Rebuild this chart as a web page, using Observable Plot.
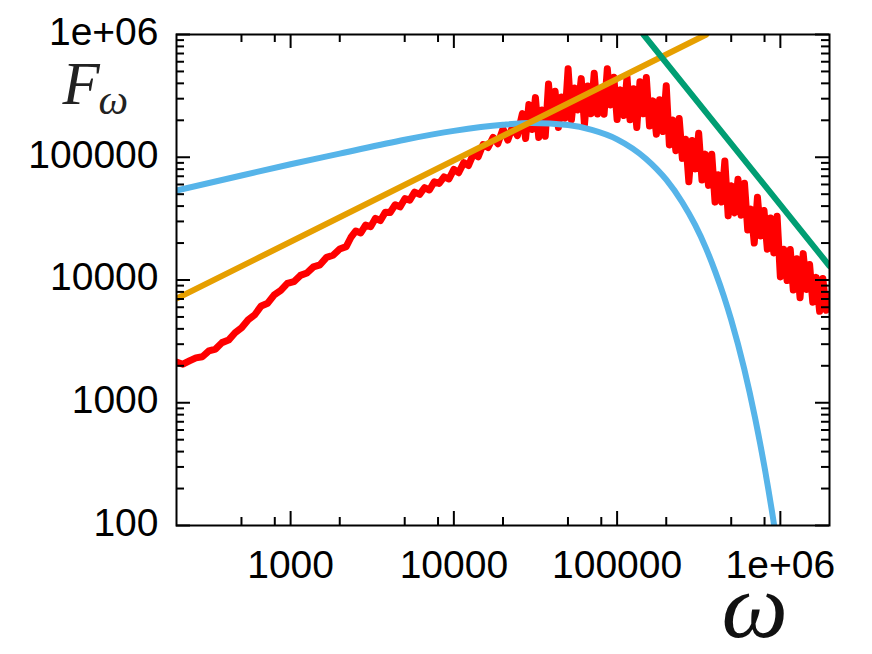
<!DOCTYPE html>
<html><head><meta charset="utf-8">
<script src="https://cdn.jsdelivr.net/npm/d3@7"></script>
<script src="https://cdn.jsdelivr.net/npm/@observablehq/plot@0.6"></script>
<style>body{margin:0;background:#fff}</style>
</head><body><div id="chart"></div>
<script>
// ---- data ----
const redOmega = [200,219,240,263,288,316,347,380,417,457,501,550,603,661,724,794,871,955,1047,1148,1259,1380,1514,1660,1820,2000,2190,2340,
 2510,2690,2880,3090,3310,3550,3800,4070,4370,4680,5010,5370,5750,6170,6610,7080,7590,8130,8710,9330,10000,10700,11500,12300,13200,14100,15100,16200,17400,18600,20000,21400,22900,24500,
 26300,27500,28800,30200,31600,33100,34700,36300,38000,39800,41700,43700,45700,47900,50100,52500,55000,57500,60300,63100,66100,69200,72400,75900,79400,83200,87100,91200,95500,100000,
 105000,110000,115000,120000,126000,132000,138000,145000,151000,158000,166000,174000,182000,191000,200000,209000,219000,229000,240000,251000,263000,275000,288000,302000,316000,331000,347000,363000,380000,398000,
 417000,437000,457000,479000,501000,525000,550000,575000,603000,631000,661000,692000,724000,759000,794000,832000,871000,912000,955000,1000000,
 1050000,1100000,1150000,1200000,1260000,1320000,1380000,1450000,1510000,1580000,1660000,1740000,1820000,1910000,2000000];
const redF = [2140,2060,2190,2320,2370,2650,2740,3090,3240,3720,4090,4750,5210,6150,6470,7570,8240,9380,9680,10900,11400,12800,13300,15300,15900,17900,18700,22200,
 25100,24200,28000,27200,31800,30500,35700,35500,41000,39400,46000,44700,52000,49800,56500,54100,63100,61300,69200,66500,79600,74800,90400,85700,107000,101000,127000,120000,145000,129000,170000,138000,178000,150000,
 227000,142000,269000,168000,306000,145000,243000,148000,395000,195000,345000,175000,310000,208000,525000,202000,367000,243000,437000,184000,380000,226000,483000,225000,352000,224000,525000,267000,449000,203000,
 354000,219000,450000,202000,362000,175000,412000,226000,447000,180000,288000,154000,294000,162000,382000,126000,201000,113000,207000,97900,140000,63200,137000,80400,157000,65200,106000,59000,106000,43100,
 72100,43200,93100,33300,58500,35200,66100,33700,61500,25500,37800,20000,47200,22800,36900,17800,32000,16600,33100,10600,
 17800,9890,17700,8280,14900,7180,16400,8380,13400,6590,10500,5560,10300,5660,7410];

const blueOmega = [200,500,1000,2000,5000,10000,20000,30000,50000,70000,100000,150000,200000,250000,300000,350000,400000,450000,500000,600000,700000,800000,900000,950000];
const blueF = [53600,71000,87700,107000,139000,164000,184000,190000,183000,167000,140000,97300,65600,43200,28200,18200,11600,7430,4730,1900,753,298,117,73];

const orangeOmega = [200, 352000];
const orangeF = [7050, 1000000];

const greenOmega = [145000, 2000000];
const greenF = [1000000, 13000];

const xMajor = [1000, 10000, 100000, 1000000];
const xLabels = ["1000", "10000", "100000", "1e+06"];
const xMinor = [500, 800, 2000, 5000, 8000, 20000, 50000, 80000, 200000, 500000, 800000];
const yMajor = [100, 1000, 10000, 100000, 1000000];
const yLabels = ["100", "1000", "10000", "100000", "1e+06"];
const yMinor = [200,300,400,500,600,700,800,900,2000,3000,4000,5000,6000,7000,8000,9000,
  20000,30000,40000,50000,60000,70000,80000,90000,200000,300000,400000,500000,600000,700000,800000,900000];

// ---- layout ----
const width = 872, height = 654, mt = 34, mb = 129, ml = 176, mr = 43;
const H = height - mt - mb, W = width - ml - mr;
const majorLen = 14, minorLen = 8;

const toRows = (xs, ys) => xs.map((w, i) => ({w, F: ys[i]}));
const red = toRows(redOmega, redF);
const blue = toRows(blueOmega, blueF);
const orange = toRows(orangeOmega, orangeF);
const green = toRows(greenOmega, greenF);

const xTickMarks = (data, len) => [
  Plot.ruleX(data, {x: d => d, insetTop: H - len, stroke: "black", strokeWidth: 2}),
  Plot.ruleX(data, {x: d => d, insetBottom: H - len, stroke: "black", strokeWidth: 2})
];
const yTickMarks = (data, len) => [
  Plot.ruleY(data, {y: d => d, insetRight: W - len, stroke: "black", strokeWidth: 2}),
  Plot.ruleY(data, {y: d => d, insetLeft: W - len, stroke: "black", strokeWidth: 2})
];

const chart = Plot.plot({
  width, height,
  marginTop: mt, marginBottom: mb, marginLeft: ml, marginRight: mr,
  style: {fontFamily: "'Liberation Sans', Arial, Helvetica, sans-serif", fontSize: "39px", background: "white", overflow: "visible"},
  x: {type: "log", domain: [200, 2000000], label: null},
  y: {type: "log", domain: [100, 1000000], label: null},
  marks: [
    Plot.line(red, {x: "w", y: "F", stroke: "#ff0000", strokeWidth: 7, clip: true}),
    Plot.line(blue, {x: "w", y: "F", stroke: "#56b4e9", strokeWidth: 6, curve: "monotone-x", clip: true}),
    Plot.line(orange, {x: "w", y: "F", stroke: "#e69f00", strokeWidth: 6, clip: true}),
    Plot.line(green, {x: "w", y: "F", stroke: "#009e73", strokeWidth: 6, clip: true}),
    ...xTickMarks(xMajor, majorLen),
    ...xTickMarks(xMinor, minorLen),
    ...yTickMarks(yMajor, majorLen),
    ...yTickMarks(yMinor, minorLen),
    Plot.frame({stroke: "black", strokeWidth: 2}),
    Plot.axisX({ticks: xMajor, tickSize: 0, tickPadding: 25, fontSize: 39,
      tickFormat: d => xLabels[xMajor.indexOf(d)], label: null}),
    Plot.axisY({ticks: yMajor, tickSize: 0, tickPadding: 18, fontSize: 39, dy: -2,
      tickFormat: d => yLabels[yMajor.indexOf(d)], label: null}),
    Plot.text(["F"], {frameAnchor: "top-left", text: d => d, textAnchor: "start", lineAnchor: "bottom",
      dx: -114, dy: 69, fontSize: 61, fontStyle: "italic", fontFamily: "'Liberation Serif', serif", fill: "#222"}),
    Plot.text(["ω"], {frameAnchor: "top-left", text: d => d, textAnchor: "start", lineAnchor: "bottom",
      dx: -78, dy: 79, fontSize: 42, fontStyle: "italic", fontFamily: "'Liberation Serif', serif", fill: "#222"}),
    Plot.text(["ω"], {frameAnchor: "bottom-right", text: d => d, textAnchor: "start", lineAnchor: "bottom",
      dx: -108, dy: 111, fontSize: 94, fontStyle: "italic", fontFamily: "'Liberation Serif', serif", fill: "#111"})
  ]
});
document.getElementById("chart").appendChild(chart);
</script>
</body></html>
